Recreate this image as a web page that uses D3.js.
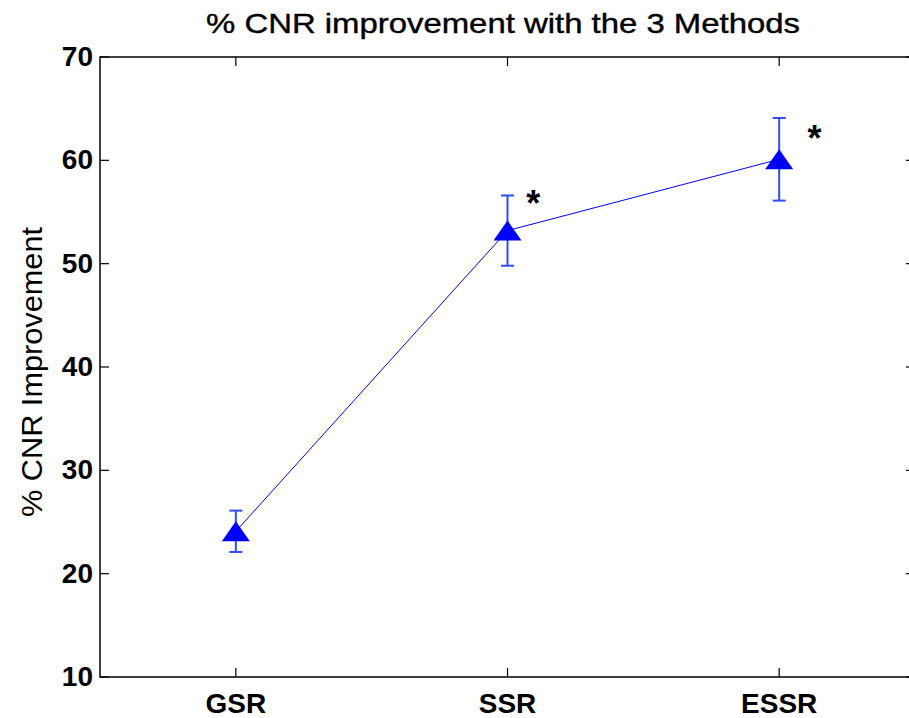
<!DOCTYPE html>
<html><head><meta charset="utf-8">
<script src="https://cdn.jsdelivr.net/npm/d3@7/dist/d3.min.js"></script>
<style>body{margin:0;background:#fff}svg{display:block}</style>
</head><body><svg id="c" width="909" height="718"></svg>
<script>
const categories = ["GSR", "SSR", "ESSR"];
const means = [24.1, 53.2, 60.1];
const errors = [2.0, 3.4, 4.0];
const yTicks = [10, 20, 30, 40, 50, 60, 70];
const stars = [{x: 2.095, y: 57.1}, {x: 3.13, y: 63.4}];
const title = "% CNR improvement with the 3 Methods";
const yLabel = "% CNR Improvement";

const svg = d3.select("#c");
const L = 100, R = 915, T = 57, B = 677;
const x = d3.scaleLinear().domain([0.5, 3.5]).range([L, R]);
const y = d3.scaleLinear().domain([10, 70]).range([B, T]);
const font = "'Liberation Sans', Arial, sans-serif";
const tl = 9;

svg.append("rect").attr("x", L).attr("y", T).attr("width", R - L).attr("height", B - T)
  .attr("fill", "none").attr("stroke", "#000").attr("stroke-width", 1.5);

yTicks.forEach(v => {
  svg.append("line").attr("x1", L).attr("x2", L + tl).attr("y1", y(v)).attr("y2", y(v)).attr("stroke", "#000").attr("stroke-width", 1.2);
  svg.append("line").attr("x1", R).attr("x2", R - tl).attr("y1", y(v)).attr("y2", y(v)).attr("stroke", "#000").attr("stroke-width", 1.2);
  svg.append("text").attr("x", 93).attr("y", y(v) + 9).attr("text-anchor", "end")
    .attr("font-family", font).attr("font-weight", "bold").attr("font-size", 28).text(v);
});
categories.forEach((c, i) => {
  const xv = x(i + 1);
  svg.append("line").attr("x1", xv).attr("x2", xv).attr("y1", B).attr("y2", B - tl).attr("stroke", "#000").attr("stroke-width", 1.2);
  svg.append("line").attr("x1", xv).attr("x2", xv).attr("y1", T).attr("y2", T + tl).attr("stroke", "#000").attr("stroke-width", 1.2);
  svg.append("text").attr("x", xv).attr("y", 713).attr("text-anchor", "middle")
    .attr("font-family", font).attr("font-weight", "bold").attr("font-size", 28).text(c);
});

svg.append("text").attr("x", 206).attr("y", 33)
  .attr("font-family", font).attr("font-size", 28).attr("stroke", "#000").attr("stroke-width", 0.4)
  .attr("textLength", 594).attr("lengthAdjust", "spacingAndGlyphs").text(title);
svg.append("text").attr("transform", `translate(42,372) rotate(-90)`).attr("text-anchor", "middle")
  .attr("font-family", font).attr("font-size", 29).attr("textLength", 290).attr("lengthAdjust", "spacingAndGlyphs").text(yLabel);

const blue = "#0000ff";
const pts = means.map((m, i) => ({x: i + 1, y: m, e: errors[i]}));
svg.append("path").datum(pts).attr("fill", "none").attr("stroke", blue).attr("stroke-width", 1)
  .attr("d", d3.line().x(d => x(d.x)).y(d => y(d.y)));
const cw = 6.5;
pts.forEach(d => {
  const g = svg.append("g").attr("stroke", "#2e4bff").attr("stroke-width", 2);
  g.append("line").attr("x1", x(d.x)).attr("x2", x(d.x)).attr("y1", y(d.y - d.e)).attr("y2", y(d.y + d.e));
  g.append("line").attr("x1", x(d.x) - cw).attr("x2", x(d.x) + cw).attr("y1", y(d.y + d.e)).attr("y2", y(d.y + d.e));
  g.append("line").attr("x1", x(d.x) - cw).attr("x2", x(d.x) + cw).attr("y1", y(d.y - d.e)).attr("y2", y(d.y - d.e));
});
const hw = 14, hh = 10;
pts.forEach(d => {
  const cx = x(d.x), cy = y(d.y);
  svg.append("path").attr("fill", blue)
    .attr("d", `M${cx},${cy - hh}L${cx + hw},${cy + hh}L${cx - hw},${cy + hh}Z`);
});
stars.forEach(s => {
  svg.append("text").attr("x", x(s.x)).attr("y", y(s.y)).attr("dy", "0.72em").attr("text-anchor", "middle")
    .attr("font-family", font).attr("font-weight", "bold").attr("font-size", 36).text("*");
});
</script></body></html>
